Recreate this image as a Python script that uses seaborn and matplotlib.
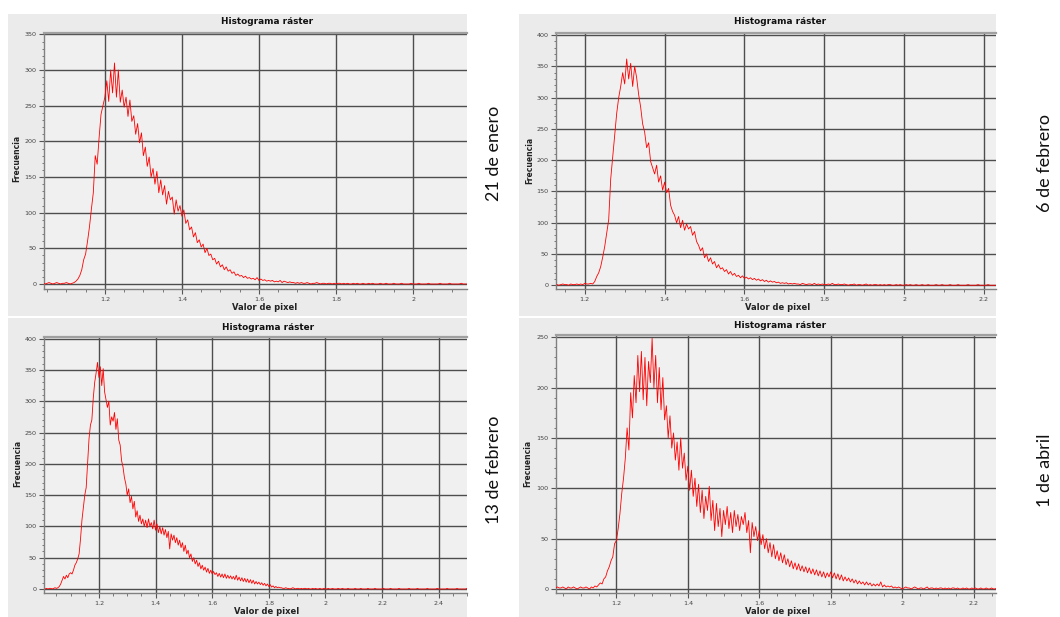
import numpy as np
import pandas as pd
import seaborn as sns
import matplotlib
matplotlib.use('Agg')
import matplotlib.pyplot as plt
from matplotlib.patches import Rectangle
from matplotlib.ticker import MultipleLocator, FuncFormatter

# histogram bins are 0.005 wide
bin_width = 0.005

# 21 de enero, first bin at 1.040
start_enero = 1.040
freq_enero = [1, 0, 1, 2, 1, 0, 1, 2, 1, 0, 1, 1, 2, 1, 0, 1, 2,
              4, 7, 12, 20, 34, 42, 60, 80, 105, 128, 180, 168, 205, 238, 250, 262, 285, 256, 300, 268,
              310, 262, 300, 255, 272, 248, 262, 235, 258, 228, 236, 210, 225, 198, 212, 180, 192, 165,
              178, 150, 162, 140, 158, 128, 146, 125, 138, 112, 130, 118, 122, 98, 118, 102, 110, 95,
              104, 85, 90, 76, 80, 66, 72, 58, 62, 52, 56, 44, 50, 40, 42, 34, 36, 28, 32, 24, 27, 20,
              24, 18, 20, 15, 17, 12, 14, 11, 12, 9, 11, 8, 9, 7, 8, 6, 9, 5, 7, 5, 6, 4, 5, 4, 5, 3,
              4, 3, 5, 2, 4, 3, 2, 3, 2, 2, 1, 2,
              1, 2, 1, 1, 2, 1, 0, 1, 1, 2, 1, 0, 1, 1, 0, 1, 1, 0, 1, 0, 1, 1, 0, 1, 0, 1, 0, 0, 1, 0,
              1, 0, 0, 1, 0, 0, 1, 0, 1, 0, 0, 0, 1, 0, 0, 1, 0, 0, 0, 1, 0, 0, 0, 1, 0, 0, 0, 0, 1, 0,
              0, 0, 1, 0, 0, 0, 0, 1, 0, 0, 0, 0, 0, 1, 0, 0, 0, 0, 1, 0, 0, 0, 0, 0, 1, 0, 0, 0, 0, 0]

# 6 de febrero, first bin at 1.130
start_feb6 = 1.130
freq_feb6 = [1, 0, 1, 2, 1, 1, 0, 2, 1, 1, 2, 1, 2, 1, 3, 2, 2, 3,
             2, 6, 14, 20, 30, 45, 62, 84, 105, 170, 205, 240, 275, 300, 318, 340, 322, 362, 330, 355,
             318, 350, 332, 305, 285, 258, 245, 220, 228, 198, 188, 178, 192, 165, 175, 152, 165, 148,
             155, 128, 118, 112, 100, 110, 92, 104, 88, 98, 90, 94, 80, 86, 70, 64, 55, 60, 44, 50, 38,
             44, 34, 38, 28, 33, 26, 28, 22, 25, 18, 22, 16, 19, 14, 16, 12, 15, 11, 13, 10, 12, 9, 11,
             8, 10, 7, 9, 6, 8, 5, 7, 5, 6, 4, 5, 3, 4, 3, 4, 2, 3, 2, 3, 2,
             2, 1, 3, 2, 1, 2, 2, 1, 3, 1, 2, 1, 2, 1, 1, 2, 1, 3, 1, 1, 2, 1, 1, 2, 1, 0, 1, 1, 2, 0,
             1, 1, 0, 1, 2, 0, 1, 0, 1, 1, 0, 1, 0, 1, 0, 1, 1, 0, 0, 1, 0, 1, 0, 0, 1, 0, 1, 0, 0, 1,
             0, 0, 1, 0, 0, 1, 0, 0, 0, 1, 0, 0, 1, 0, 0, 0, 1, 0, 0, 0, 1, 0, 0, 0, 0, 1, 0, 0, 0, 0,
             1, 0, 0, 0, 0, 1, 0, 0, 0, 0, 0]

# 13 de febrero, first bin at 1.010
start_feb13 = 1.010
freq_feb13 = [0, 1, 0, 1, 1, 0, 1, 2, 1, 2, 4,
              8, 14, 20, 16, 22, 18, 24, 26, 24, 30,
              38, 42, 48, 56, 80, 110, 130, 150, 162, 200,
              240, 262, 270, 305, 330, 345, 362, 338, 355, 325,
              352, 315, 302, 290, 300, 262, 275, 268, 282, 255,
              272, 238, 230, 205, 195, 178, 168, 150, 160, 138,
              148, 128, 140, 115, 125, 108, 118, 104, 112, 100,
              110, 98, 112, 100, 106, 96, 110, 94, 104, 90,
              100, 88, 98, 86, 95, 82, 92, 64, 88, 78,
              86, 74, 82, 70, 78, 66, 74, 60, 70, 56,
              62, 50, 56, 44, 50, 40, 46, 36, 42, 32,
              38, 30, 35, 27, 33, 25, 30, 24, 28, 23,
              26, 20, 25, 19, 24, 18, 24, 17, 22, 17,
              21, 16, 20, 15, 22, 14, 19, 13, 18, 12,
              17, 11, 16, 10, 15, 9, 14, 8, 12, 8,
              11, 7, 10, 6, 9, 5, 8, 4, 7, 3,
              5, 2, 4, 2, 3, 2, 2, 1,
              1, 2, 1, 1, 0, 1, 2, 1, 0, 1, 1, 0, 1, 0, 1, 1, 0, 1, 0, 0, 1, 0, 1, 0, 0, 1, 0, 0, 1, 0,
              0, 1, 0, 0, 1, 0, 0, 0, 1, 0, 0, 1, 0, 0, 0, 1, 0, 0, 0, 0, 1, 0, 0, 0, 1, 0, 0, 0, 0, 1,
              0, 0, 0, 0, 1, 0, 0, 0, 0, 0, 1, 0, 0, 0, 0, 1, 0, 0, 0, 0, 0, 1, 0, 0, 0, 0, 0, 0, 1, 0,
              0, 0, 0, 0, 1, 0, 0, 0, 0, 0, 0, 1, 0, 0, 0, 0, 0, 0, 1, 0, 0, 0, 0, 0, 0, 1, 0, 0, 0, 0,
              0, 0, 1, 0, 0, 0, 0, 0, 0, 1, 0]

# 1 de abril, first bin at 1.030
start_abril = 1.030
freq_abril = [1, 2, 1, 1, 2, 1, 0, 2, 1, 1, 2, 1, 0, 1, 2, 1, 1, 2, 1, 0, 2, 1, 3,
              2, 4, 6, 5, 10, 12, 18, 22, 28, 32,
              45, 48, 60, 75, 95, 110, 130, 160, 138, 195,
              170, 212, 185, 232, 196, 236, 188, 230, 182, 226,
              205, 249, 200, 232, 185, 220, 178, 210, 168, 182,
              150, 172, 140, 155, 128, 146, 118, 150, 120, 135,
              108, 122, 98, 118, 92, 110, 82, 104, 76, 98,
              70, 92, 78, 102, 68, 88, 58, 85, 62, 80,
              52, 78, 64, 82, 60, 76, 56, 78, 62, 74,
              58, 72, 64, 76, 56, 68, 36, 66, 52, 62,
              48, 58, 44, 54, 40, 50, 36, 46, 32, 44,
              30, 38, 28, 36, 26, 34, 24, 30, 22, 28,
              20, 26, 19, 25, 18, 23, 17, 22, 16, 21,
              15, 20, 14, 19, 13, 18, 12, 17, 11, 16,
              12, 17, 11, 16, 10, 15, 9, 14, 8, 12,
              8, 11, 7, 10, 6, 9, 5, 8, 5, 7,
              4, 7, 4, 6, 3, 5, 3, 5, 3, 7,
              2, 4, 2, 3, 2, 3, 1, 2,
              1, 2, 1, 0, 1, 2, 1, 1, 0, 1, 2, 1, 0, 1, 1, 0, 1, 2, 0, 1, 1, 0, 1, 0, 1, 1, 0, 1, 0, 1,
              0, 1, 1, 0, 1, 0, 0, 1, 0, 1, 0, 0, 1, 0, 1, 0, 0, 1, 0, 0, 1, 0, 0, 1, 0, 0, 1, 0, 0]

fechas = ['21 de enero', '6 de febrero', '13 de febrero', '1 de abril']
titulo = 'Histograma ráster'
xlabel = 'Valor de pixel'
ylabel = 'Frecuencia'

W, H = 1060, 617


def px_rect(l, t, r, b):
    return [l / W, 1 - b / H, (r - l) / W, (b - t) / H]


sns.set_style("whitegrid")
fig = plt.figure(figsize=(10.6, 6.17), dpi=100)
fig.patch.set_facecolor('white')

# layout in pixels: panel box, plot box, limits, label spots
paneles = [
    dict(data=(start_enero, freq_enero), box=(8, 14, 467, 316), plot=(44, 33, 467, 289),
         xlim=(1.042, 2.140), ylim=(-7, 352), ylab=(17, 158), xlab=(265, 307), tit=(267, 22),
         fecha=(494, 153)),
    dict(data=(start_feb6, freq_feb6), box=(519, 14, 996, 316), plot=(556, 33, 996, 289),
         xlim=(1.128, 2.230), ylim=(-6, 403.5), ylab=(530, 160), xlab=(778, 308), tit=(780, 22),
         fecha=(1045, 163)),
    dict(data=(start_feb13, freq_feb13), box=(8, 318, 467, 617), plot=(44, 337, 467, 593),
         xlim=(1.006, 2.500), ylim=(-6.4, 402.6), ylab=(18, 463), xlab=(267, 612), tit=(268, 327),
         fecha=(494, 470)),
    dict(data=(start_abril, freq_abril), box=(519, 318, 996, 617), plot=(556, 335, 996, 593),
         xlim=(1.031, 2.2625), ylim=(-4, 252.3), ylab=(528, 463), xlab=(778, 612), tit=(780, 325),
         fecha=(1045, 470)),
]

for p, fecha in zip(paneles, fechas):
    l, t, r, b = p['box']
    fig.patches.append(Rectangle((l / W, 1 - b / H), (r - l) / W, (b - t) / H,
                                 transform=fig.transFigure, facecolor='#ebebeb',
                                 edgecolor='none', zorder=-5))

    ax = fig.add_axes(px_rect(*p['plot']))
    x0, freq = p['data']
    df = pd.DataFrame({'valor': x0 + bin_width * np.arange(len(freq)), 'frecuencia': freq})
    sns.lineplot(data=df, x='valor', y='frecuencia', ax=ax, color='#ff0000',
                 linewidth=0.6, estimator=None, zorder=3)

    ax.set_facecolor('#f0f0f0')
    ax.set_xlim(*p['xlim'])
    ax.set_ylim(*p['ylim'])
    ax.xaxis.set_major_locator(MultipleLocator(0.2))
    ax.xaxis.set_minor_locator(MultipleLocator(0.05))
    ax.yaxis.set_major_locator(MultipleLocator(50))
    ax.yaxis.set_minor_locator(MultipleLocator(10))
    ax.xaxis.set_major_formatter(FuncFormatter(lambda v, pos: f'{v:g}'))
    ax.grid(True, which='major', color='#4d4d4d', linewidth=1.0)
    ax.grid(False, which='minor')
    ax.set_axisbelow(True)
    ax.tick_params(which='major', length=3.5, width=0.8, color='#555555', labelsize=4.6,
                   labelcolor='#444444', pad=2, left=True, bottom=True)
    ax.tick_params(which='minor', length=1.8, width=0.6, color='#666666', left=True, bottom=True)
    ax.set_xlabel('')
    ax.set_ylabel('')
    for s in ['left', 'bottom']:
        ax.spines[s].set_color('#808080')
        ax.spines[s].set_linewidth(1.0)
    ax.spines['top'].set_color('#a0a0a0')
    ax.spines['top'].set_linewidth(1.6)
    ax.spines['right'].set_visible(False)

    tx, ty = p['tit']
    fig.text(tx / W, 1 - ty / H, titulo, ha='center', va='center', fontsize=6.4,
             fontweight='bold', color='#111111')
    lx, ly = p['ylab']
    fig.text(lx / W, 1 - ly / H, ylabel, ha='center', va='center', rotation=90,
             fontsize=5.5, fontweight='bold', color='#222222')
    bx, by = p['xlab']
    fig.text(bx / W, 1 - by / H, xlabel, ha='center', va='center', fontsize=6,
             fontweight='bold', color='#222222')
    fx, fy = p['fecha']
    fig.text(fx / W, 1 - fy / H, fecha, ha='center', va='center', rotation=90,
             fontsize=13, family='Lato', color='#111111')

fig.savefig('out.png', dpi=100)
